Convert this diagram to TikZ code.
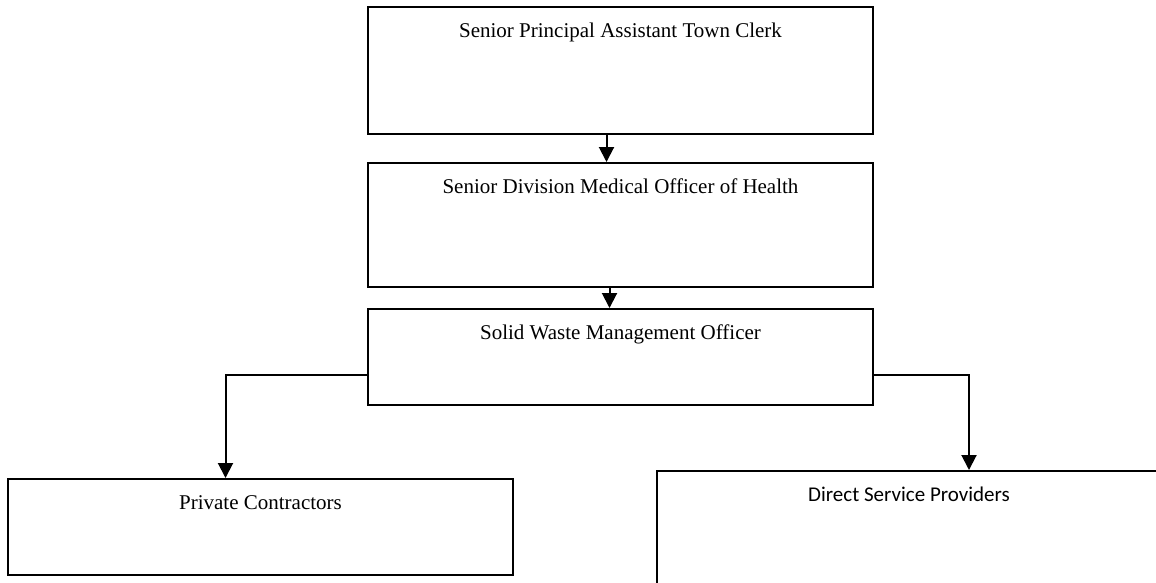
\documentclass[tikz,border=0pt]{standalone}
\usepackage{fontspec}
\setmainfont{Liberation Serif}
\newfontfamily\calibrifont{Carlito}
\usepackage{tikz}
\usetikzlibrary{positioning, arrows.meta}

\tikzset{
    post/.style={rectangle, draw, line width=2pt, minimum width=505pt, inner sep=0pt},
    flow/.style={line width=2pt, -{Triangle[length=15pt, width=15pt]}},
    toplabel/.style={anchor=base, yshift=-31pt}
}

\begin{document}
\begin{tikzpicture}[x=1pt, y=-1pt, font=\fontsize{21}{25}\selectfont]
                    \useasboundingbox (0, 0) rectangle (1156, 582);

                    \node[post, minimum height=127pt, label={[toplabel]north:Senior Principal Assistant Town Clerk}] (clerk) at (620.5, 70.5) {};
                    \node[post, minimum height=124pt, label={[toplabel]north:Senior Division Medical Officer of Health}] (moh) at (620.5, 225) {};
                    \node[post, minimum height=96pt, label={[toplabel]north:Solid Waste Management Officer}] (swmo) at (620.5, 357) {};
                    \node[post, minimum height=96pt, label={[toplabel]north:Private Contractors}] (private) at (260.5, 527) {};
                    \node[post, minimum height=116pt, label={[toplabel, font=\fontsize{21}{25}\calibrifont]north:Direct Service Providers}] (direct) at (909, 529) {};

                    \draw[flow] ([xshift=-14pt]clerk.south) -- ([xshift=-14pt]moh.north);
                    \draw[flow] ([xshift=-11pt]moh.south) -- ([xshift=-11pt]swmo.north);
                    \draw[flow] ([yshift=-18pt]swmo.west) -| ([xshift=-35pt]private.north);
                    \draw[flow] ([yshift=-18pt]swmo.east) -| ([xshift=60pt]direct.north);
                \end{tikzpicture}
\end{document}
